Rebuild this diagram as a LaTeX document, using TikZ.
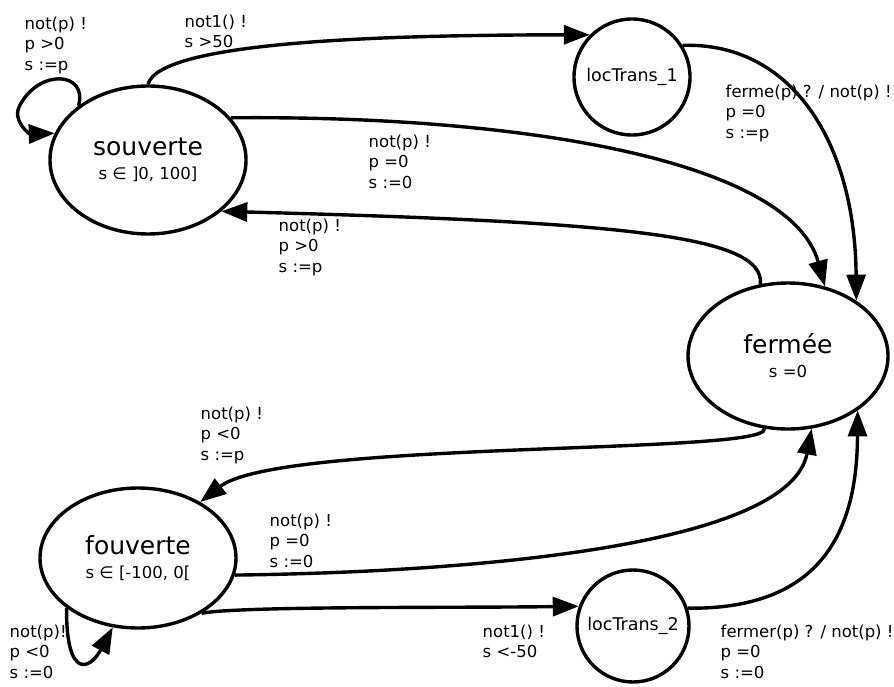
\documentclass[tikz,border=0pt]{standalone}
\usepackage{fontspec}
\setmainfont{DejaVu Sans}
\usetikzlibrary{shapes.geometric,arrows.meta}
\newcommand{\grande}{\fontsize{25}{24}\selectfont}

\begin{document}
\begin{tikzpicture}[x=1pt, y=-1pt, line width=3.4pt]
	% Stili per stati, località di transito, etichette e frecce
	\tikzset{stato/.style={ellipse, draw, minimum width=196pt, minimum height=148pt, inner sep=0pt, align=center, font=\fontsize{16.5}{24}\selectfont}}
	\tikzset{transito/.style={circle, draw, minimum size=116pt, inner sep=0pt, font=\fontsize{17.5}{20}\selectfont}}
	\tikzset{etichetta/.style={anchor=north west, inner sep=0pt, align=left, font=\fontsize{16.5}{20.5}\selectfont}}
	\tikzset{freccia/.style={-{Triangle[length=26pt, width=19pt]}}}

	\path[use as bounding box, fill=white] (0,0) rectangle (894,687);

	% Stati e località di transito
	\node[stato] (sou) at (148,160) {{\grande souverte}\\s ∈ ]0, 100]};
	\node[stato, minimum width=200pt, minimum height=146pt] (fer) at (788,356) {{\grande fermée}\\s =0};
	\node[stato, minimum height=140pt] (fou) at (138,558) {{\grande fouverte}\\s ∈ [-100, 0[};
	\node[transito] (t1) at (632,77) {locTrans\_1};
	\node[transito, minimum size=112pt] (t2) at (633,626) {locTrans\_2};

	% Transizioni
	\draw[freccia] (sou.142) .. controls (88,72) and (40,68) .. (20,105) .. controls (11,121) and (30,134) .. (sou.164);
	\draw[freccia] (sou.90) .. controls (160,40) and (400,35) .. (t1.135);
	\draw[freccia] (t1.32) .. controls (790,42) and (855,140) .. (fer.39);
	\draw[freccia] (sou.27) .. controls (520,115) and (790,160) .. (fer.62);
	\draw[freccia] (fer.111) .. controls (765,235) and (620,222) .. (sou.325);
	\draw[freccia] (fer.252) .. controls (770,455) and (280,440) .. (fou.42);
	\draw[freccia] (fou.350) .. controls (480,572) and (790,545) .. (fer.288);
	\draw[freccia] (fou.319) .. controls (240,606) and (450,608) .. (t2.160);
	\draw[freccia] (t2.18) .. controls (830,610) and (857,520) .. (fer.322);
	\draw[freccia] (fou.215) .. controls (66,680) and (90,670) .. (fou.250);

	% Etichette
	\node[etichetta] (e1) at (23,15) {not(p) !\\p >0\\s :=p};
	\node[etichetta] (e2) at (183,13) {not1() !\\s >50};
	\node[etichetta] (e3) at (724,83) {ferme(p) ? / not(p) !\\p =0\\s :=p};
	\node[etichetta] (e4) at (367,133) {not(p) !\\p =0\\s :=0};
	\node[etichetta] (e5) at (277,217) {not(p) !\\p >0\\s :=p};
	\node[etichetta] (e6) at (199,405) {not(p) !\\p <0\\s :=p};
	\node[etichetta] (e7) at (268,512) {not(p) !\\p =0\\s :=0};
	\node[etichetta] (e8) at (8,623) {not(p)!\\p <0\\s :=0};
	\node[etichetta] (e9) at (481,623) {not1() !\\s <-50};
	\node[etichetta] (e10) at (719,623) {fermer(p) ? / not(p) !\\p =0\\s :=0};
\end{tikzpicture}
\end{document}
